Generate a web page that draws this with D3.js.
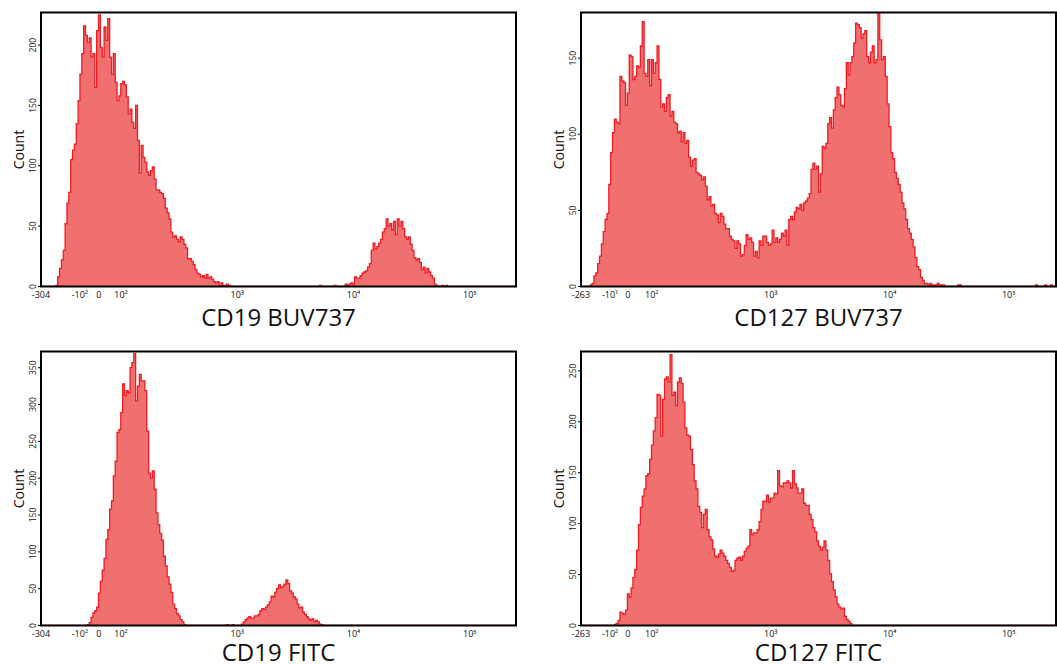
<!DOCTYPE html>
<html><head><meta charset="utf-8">
<script src="https://cdn.jsdelivr.net/npm/d3@7"></script>
<style>body{margin:0;background:#fff}svg{display:block}text{font-family:"Open Sans","Noto Sans",sans-serif}</style>
</head><body><svg id="c" width="1057" height="664"></svg>
<script>
const NBINS = 256;
// counts per display channel (256 channels across each x axis)
const cd19Buv737 = [
0,0,0,0,0,0,0,0,1,8,15,22,30,52,69,78,
105,113,118,135,154,176,193,216,208,202,206,190,193,165,212,225,
198,190,215,204,222,190,176,193,169,154,158,168,170,167,157,143,
147,136,131,150,121,94,117,107,103,95,92,96,99,89,80,80,
78,77,73,65,61,56,45,41,42,39,37,41,39,35,32,23,
23,21,18,14,11,10,8,9,7,10,7,8,6,4,3,4,
1,3,1,1,2,1,0,0,0,0,0,0,0,0,0,0,
0,0,0,0,0,0,0,0,0,0,0,0,0,0,0,0,
0,0,0,0,0,0,0,0,0,0,0,0,0,0,0,0,
0,0,0,0,0,0,1,0,0,0,0,0,0,0,1,0,
0,0,0,0,2,1,2,3,2,8,7,7,9,11,12,13,
16,19,30,36,31,33,36,39,45,48,56,50,52,47,54,43,
56,50,54,48,41,39,41,35,30,24,22,23,20,14,16,11,
15,12,9,7,2,1,0,0,1,0,1,0,0,0,0,0,
0,0,0,0,0,0,0,0,0,0,0,0,0,0,0,0,
0,0,0,0,0,0,0,0,0,0,0,0,0,0,0,0];
const cd127Buv737 = [
0,0,0,0,0,1,2,7,9,15,20,28,36,44,48,67,
88,101,110,108,107,138,135,134,119,127,152,151,136,138,145,144,
158,174,140,138,149,132,149,140,147,158,136,118,120,115,124,126,
112,115,108,107,101,102,95,101,94,96,85,79,83,84,75,74,
73,70,72,66,57,59,53,54,48,47,42,48,46,41,38,38,
33,31,30,25,30,28,20,21,27,34,31,32,29,20,23,19,
30,27,33,33,29,27,28,37,29,32,29,31,35,33,37,27,
44,46,44,49,52,51,54,50,55,56,58,61,77,81,77,79,
62,74,92,91,94,107,111,104,116,124,131,126,119,118,130,147,
139,147,151,160,173,172,170,163,166,168,151,147,154,158,147,149,
179,162,149,151,138,120,105,88,84,75,71,67,62,55,51,44,
38,35,31,26,19,13,11,6,4,2,2,1,2,1,1,1,
2,1,1,1,0,0,0,0,0,0,0,1,1,0,0,0,
0,0,0,0,0,0,0,0,0,0,0,0,0,0,0,0,
0,0,0,0,0,0,0,0,0,0,0,0,0,0,0,0,
0,0,0,0,0,1,0,0,0,0,1,0,0,1,0,0];
const cd19Fitc = [
0,0,0,0,0,0,0,0,0,0,0,0,0,0,0,0,
0,0,0,0,0,0,0,0,0,1,4,11,17,20,25,44,
60,75,91,117,130,158,169,203,223,262,266,289,328,312,319,316,
350,357,369,305,325,341,332,332,319,264,207,200,210,185,153,137,
125,116,94,81,66,56,45,29,23,16,13,8,5,1,0,0,
0,0,0,0,0,0,0,0,0,0,0,0,0,0,0,0,
0,0,0,0,1,0,0,1,0,0,0,0,2,5,8,10,
12,10,10,13,13,15,20,23,22,25,28,32,40,39,45,50,
55,51,53,56,62,57,47,44,39,36,29,24,25,18,15,12,
9,7,9,5,7,5,2,1,0,0,0,0,0,0,0,0,
0,0,0,0,0,0,0,0,0,0,0,0,0,0,0,0,
0,0,0,0,0,0,0,0,0,0,0,0,0,0,0,0,
0,0,0,0,0,0,0,0,0,0,0,0,0,0,0,0,
0,0,0,0,0,0,0,0,0,0,0,0,0,0,0,0,
0,0,0,0,0,0,0,0,0,0,0,0,0,0,0,0,
0,0,0,0,0,0,0,0,0,0,0,0,0,0,0,0];
const cd127Fitc = [
0,0,0,0,0,0,0,0,0,0,0,0,0,0,0,0,
0,0,1,2,5,13,12,11,15,31,28,37,47,55,74,99,
116,127,134,147,149,163,177,191,204,227,226,186,222,242,244,239,
266,226,229,216,239,243,238,219,194,187,186,173,158,142,134,117,
111,96,109,114,94,87,84,75,68,67,70,74,71,68,64,61,
57,53,54,64,66,67,64,68,73,76,78,94,89,91,91,94,
102,114,122,122,128,121,125,125,130,129,152,137,136,140,140,142,
140,135,152,139,135,130,130,134,120,118,118,109,104,96,92,83,
78,74,77,83,74,64,51,43,35,28,21,18,16,17,9,6,
4,2,0,0,0,0,0,0,0,0,0,0,0,0,0,0,
0,0,0,0,0,0,0,0,0,0,0,0,0,0,0,0,
0,0,0,0,0,0,0,0,0,0,0,0,0,0,0,0,
0,0,0,0,0,0,0,0,0,0,0,0,0,0,0,0,
0,0,0,0,0,0,0,0,0,0,0,0,0,0,0,0,
0,0,0,0,0,0,0,0,0,0,0,0,0,0,0,0,
0,0,0,0,0,0,0,0,0,0,0,0,0,0,0,0];

const panelTitles = ["CD19 BUV737", "CD127 BUV737", "CD19 FITC", "CD127 FITC"];
const panelCounts = [cd19Buv737, cd127Buv737, cd19Fitc, cd127Fitc];
const yMaxCounts = [227, 180, 372, 269];
const yTickStep = 50;
const xTickValues = [null, -100, 0, 100, 1000, 10000, 100000]; // null = axis minimum
const xTickLabelsCD19 = ["-304", "-10²", "0", "10²", "10³", "10⁴", "10⁵"];
const xTickLabelsCD127Buv = ["-263", "-10¹", "0", "10²", "10³", "10⁴", "10⁵"];
const xTickLabelsCD127Fitc = ["-263", "-10²", "0", "10²", "10³", "10⁴", "10⁵"];
const panelTickLabels = [xTickLabelsCD19, xTickLabelsCD127Buv, xTickLabelsCD19, xTickLabelsCD127Fitc];
// biexponential-style display: linear around zero, log10 above the threshold
const biexCD19 = {min: -304, top: 250000, lin: 100, posWidth: 0.19, negWidth: 0.164};
const biexCD127 = {min: -263, top: 250000, lin: 100, posWidth: 0.2, negWidth: 0.15};
const panelBiex = [biexCD19, biexCD127, biexCD19, biexCD127];

function biex(v, p) {
  if (v >= p.lin) return p.posWidth + Math.log10(v / p.lin);
  if (v >= 0) return v / p.lin * p.posWidth;
  return v / p.lin * p.negWidth;
}

const svg = d3.select("#c");
const W = 475, H = 274;
const origins = [[41, 12.5], [581, 12.5], [41, 351.5], [581, 351.5]];
const titleGap = [39, 39, 35.5, 35.5];
const fillCol = "#f07070", strokeCol = "#ee1c25";

panelCounts.forEach((counts, k) => {
  const [x0, y0] = origins[k];
  const p = panelBiex[k];
  const g = svg.append("g");
  const xb = d3.scaleLinear().domain([0, NBINS]).range([x0, x0 + W]);
  const xv = d3.scaleLinear().domain([biex(p.min, p), biex(p.top, p)]).range([x0, x0 + W]);
  const y = d3.scaleLinear().domain([0, yMaxCounts[k]]).range([y0 + H, y0]);

  const clipId = "clip" + k;
  svg.append("clipPath").attr("id", clipId).append("rect")
    .attr("x", x0).attr("y", y0).attr("width", W).attr("height", H);

  const pts = counts.map((c, i) => [i, c]);
  pts.push([NBINS, counts[NBINS - 1]]);
  const area = d3.area().x(d => xb(d[0])).y0(y(0)).y1(d => y(d[1])).curve(d3.curveStepAfter);
  const line = d3.line().x(d => xb(d[0])).y(d => y(d[1])).curve(d3.curveStepAfter);
  const hg = g.append("g").attr("clip-path", `url(#${clipId})`);
  hg.append("path").datum(pts).attr("d", area).attr("fill", fillCol);
  hg.append("path").datum(pts).attr("d", line).attr("fill", "none")
    .attr("stroke", strokeCol).attr("stroke-width", 1.3).attr("stroke-linejoin", "miter");

  // frame
  g.append("rect").attr("x", x0).attr("y", y0).attr("width", W).attr("height", H)
    .attr("fill", "none").attr("stroke", "#000").attr("stroke-width", 2);

  // y ticks
  const yt = d3.range(0, yMaxCounts[k] + 1, yTickStep);
  yt.forEach(v => {
    g.append("line").attr("x1", x0 - 3).attr("x2", x0).attr("y1", y(v)).attr("y2", y(v))
      .attr("stroke", "#000").attr("stroke-width", 1);
    g.append("text").attr("transform", `translate(${x0 - 5},${y(v)}) rotate(-90)`)
      .attr("text-anchor", "middle").attr("font-size", 8.5).attr("fill", "#111").text(v);
  });

  // x ticks
  const labels = panelTickLabels[k];
  xTickValues.forEach((v, i) => {
    const val = v === null ? p.min : v;
    const xp = xv(biex(val, p));
    g.append("text").attr("x", xp).attr("y", y0 + H + 11.5).attr("text-anchor", "middle")
      .attr("font-size", 9).attr("fill", "#111").text(labels[i]);
  });

  // titles
  g.append("text").attr("x", x0 + W / 2).attr("y", y0 + H + titleGap[k]).attr("text-anchor", "middle")
    .attr("font-size", 24).attr("fill", "#111").text(panelTitles[k]);
  g.append("text").attr("transform", `translate(${x0 - 17},${y0 + H / 2}) rotate(-90)`)
    .attr("text-anchor", "middle").attr("font-size", 14).attr("fill", "#111").text("Count");
});
</script></body></html>
